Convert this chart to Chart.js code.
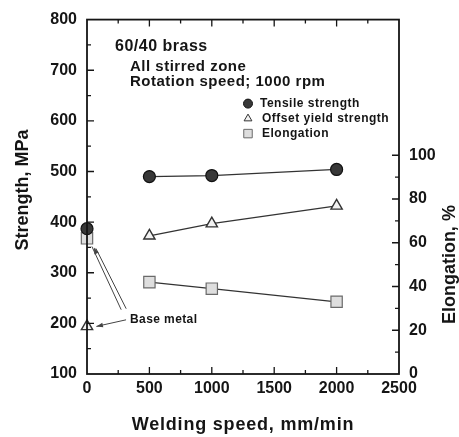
<!DOCTYPE html>
<html>
<head>
<meta charset="utf-8">
<script src="https://cdn.jsdelivr.net/npm/chart.js@4.4.1/dist/chart.umd.min.js"></script>
<style>
  html, body { margin: 0; padding: 0; background: #fff; }
  #wrap { width: 459px; height: 437px; }
</style>
</head>
<body>
<div id="wrap"><canvas id="chart" width="459" height="437"></canvas></div>
<script>
  // data
  const weldSpeeds = [500, 1000, 2000];
  const tensile = [490, 492, 504];
  const yieldStrength = [373, 397, 432];
  const elongation = [42, 39, 33];
  const baseSpeed = 0;
  const baseTensile = 387;
  const baseYield = 194;
  const baseElong = 62;

  const xTicks = [0, 500, 1000, 1500, 2000, 2500];
  const strengthTicks = [100, 200, 300, 400, 500, 600, 700, 800];
  const elongTicks = [0, 20, 40, 60, 80, 100];

  const ink = '#151515';
  const fontBold = (size) => `bold ${size}px Arial, "Liberation Sans", sans-serif`;
  const tickFont = { family: 'Arial, "Liberation Sans", sans-serif', size: 16, weight: 'bold' };

  function pts(xs, ys) {
    return xs.map((x, i) => ({ x, y: ys[i] }));
  }

  const circle = { pointStyle: 'circle', pointRadius: 6, pointBackgroundColor: '#383838', pointBorderColor: '#111', pointBorderWidth: 1.2 };
  const triangle = { pointStyle: 'triangle', pointRadius: 6.5, pointBackgroundColor: '#f2f2f2', pointBorderColor: '#333', pointBorderWidth: 1.4 };
  const square = { pointStyle: 'rect', pointRadius: 8, pointBackgroundColor: '#dedede', pointBorderColor: '#6a6a6a', pointBorderWidth: 1.2 };

  function spaced(ctx, text, x, y, spacing) {
    ctx.letterSpacing = spacing + 'px';
    ctx.fillText(text, x, y);
    ctx.letterSpacing = '0px';
  }

  // inward ticks, frame, texts, legend and the base metal callout
  const decorations = {
    id: 'decorations',
    afterDatasetsDraw(chart) {
      const { ctx, chartArea: a, scales } = chart;
      const x = scales.x, y = scales.y, y2 = scales.y2;
      ctx.save();
      ctx.strokeStyle = ink;
      ctx.lineWidth = 1.8;
      ctx.strokeRect(a.left, a.top, a.right - a.left, a.bottom - a.top);

      ctx.lineWidth = 1.3;
      ctx.beginPath();
      for (let v = 250; v < 2500; v += 250) {
        const px = x.getPixelForValue(v);
        const len = v % 500 === 0 ? 7 : 4;
        ctx.moveTo(px, a.bottom); ctx.lineTo(px, a.bottom - len);
        ctx.moveTo(px, a.top); ctx.lineTo(px, a.top + len);
      }
      for (let v = 150; v < 800; v += 50) {
        const py = y.getPixelForValue(v);
        const len = v % 100 === 0 ? 7 : 4;
        ctx.moveTo(a.left, py); ctx.lineTo(a.left + len, py);
      }
      for (let v = 10; v <= 100; v += 10) {
        const py = y2.getPixelForValue(v);
        const len = v % 20 === 0 ? 7 : 4;
        ctx.moveTo(a.right, py); ctx.lineTo(a.right - len, py);
      }
      ctx.stroke();

      // heading
      ctx.fillStyle = ink;
      ctx.textBaseline = 'middle';
      ctx.textAlign = 'left';
      ctx.font = fontBold(16);
      spaced(ctx, '60/40 brass', a.left + 28, a.top + 27, 0.5);
      ctx.font = fontBold(15);
      spaced(ctx, 'All stirred zone', a.left + 43, a.top + 47, 0.5);
      spaced(ctx, 'Rotation speed; 1000 rpm', a.left + 43, a.top + 62, 0.5);

      // legend
      const legend = [
        ['Tensile strength', circle, 0],
        ['Offset yield strength', triangle, 2],
        ['Elongation', square, 2],
      ];
      ctx.font = fontBold(12);
      legend.forEach(([label, st, shift], i) => {
        const ly = a.top + 84 + i * 15;
        const lx = a.left + 161;
        ctx.fillStyle = st.pointBackgroundColor;
        ctx.strokeStyle = st.pointBorderColor;
        ctx.lineWidth = 1;
        const r = st.pointStyle === 'rect' ? 6 : 4.5;
        Chart.helpers.drawPoint(ctx, { pointStyle: st.pointStyle, radius: r, borderWidth: 1 }, lx, ly);
        ctx.fillStyle = ink;
        spaced(ctx, label, lx + 12 + shift, ly, 0.5);
      });

      // base metal callout
      ctx.font = fontBold(12);
      const tx = x.getPixelForValue(345), ty = y.getPixelForValue(207);
      spaced(ctx, 'Base metal', tx, ty, 0.4);
      ctx.strokeStyle = '#444';
      ctx.lineWidth = 1;
      const arrow = (x0, y0, x1, y1) => {
        const ang = Math.atan2(y1 - y0, x1 - x0);
        ctx.beginPath();
        ctx.moveTo(x1, y1);
        ctx.lineTo(x1 - 7 * Math.cos(ang - 0.35), y1 - 7 * Math.sin(ang - 0.35));
        ctx.lineTo(x1 - 7 * Math.cos(ang + 0.35), y1 - 7 * Math.sin(ang + 0.35));
        ctx.closePath();
        ctx.fillStyle = '#444';
        ctx.fill();
      };
      const ax0 = tx - 4, ay0 = ty;
      const ax1 = x.getPixelForValue(75), ay1 = y.getPixelForValue(baseYield);
      ctx.beginPath(); ctx.moveTo(ax0, ay0); ctx.lineTo(ax1, ay1); ctx.stroke();
      arrow(ax0, ay0, ax1, ay1);
      const bx0 = x.getPixelForValue(290), by0 = y.getPixelForValue(225);
      const bx1 = x.getPixelForValue(55), by1 = y.getPixelForValue(350);
      ctx.beginPath();
      ctx.moveTo(bx0 - 2, by0 - 1); ctx.lineTo(bx1 - 2, by1 - 1);
      ctx.moveTo(bx0 + 3, by0 - 2); ctx.lineTo(bx1 + 2, by1 + 1);
      ctx.stroke();
      arrow(bx0, by0, bx1, by1);

      // axis titles
      ctx.fillStyle = ink;
      ctx.font = fontBold(18);
      ctx.textAlign = 'center';
      spaced(ctx, 'Welding speed, mm/min', (a.left + a.right) / 2, 425, 0.8);
      ctx.save();
      ctx.translate(23, 190);
      ctx.rotate(-Math.PI / 2);
      ctx.fillText('Strength, MPa', 0, 0);
      ctx.restore();
      ctx.save();
      ctx.translate(450, (y2.getPixelForValue(0) + y2.getPixelForValue(100)) / 2);
      ctx.rotate(-Math.PI / 2);
      ctx.fillText('Elongation, %', 0, 0);
      ctx.restore();
      ctx.restore();
    },
  };

  const lineStyle = { borderColor: '#333', borderWidth: 1.3, showLine: true, clip: false };

  new Chart(document.getElementById('chart'), {
    type: 'scatter',
    data: {
      datasets: [
        { label: 'Tensile strength', data: pts(weldSpeeds, tensile), yAxisID: 'y', ...lineStyle, ...circle },
        { label: 'Offset yield strength', data: pts(weldSpeeds, yieldStrength), yAxisID: 'y', ...lineStyle, ...triangle },
        { label: 'Elongation', data: pts(weldSpeeds, elongation), yAxisID: 'y2', ...lineStyle, ...square },
        { label: 'Base tensile', data: [{ x: baseSpeed, y: baseTensile }], yAxisID: 'y', showLine: false, clip: false, ...circle },
        { label: 'Base yield', data: [{ x: baseSpeed, y: baseYield }], yAxisID: 'y', showLine: false, clip: false, ...triangle },
        { label: 'Base elongation', data: [{ x: baseSpeed, y: baseElong }], yAxisID: 'y2', showLine: false, clip: false, ...square },
      ],
    },
    options: {
      responsive: false,
      animation: false,
      layout: { padding: { top: 15, left: 0, right: 0, bottom: 0 } },
      plugins: { legend: { display: false }, tooltip: { enabled: false } },
      scales: {
        x: {
          type: 'linear', min: 0, max: 2500,
          afterBuildTicks: (s) => { s.ticks = xTicks.map((v) => ({ value: v })); },
          afterFit: (s) => { s.height = 63; },
          grid: { display: false, drawTicks: false },
          border: { display: false },
          ticks: { color: ink, font: tickFont, padding: 5, maxRotation: 0, callback: (v) => String(v) },
        },
        y: {
          type: 'linear', position: 'left', min: 100, max: 800,
          afterBuildTicks: (s) => { s.ticks = strengthTicks.map((v) => ({ value: v })); },
          afterFit: (s) => { s.width = 87; },
          grid: { display: false, drawTicks: false },
          border: { display: false },
          ticks: { color: ink, font: tickFont, padding: 10, callback: (v) => String(v) },
        },
        y2: {
          type: 'linear', position: 'right', min: 0, max: 162,
          afterBuildTicks: (s) => { s.ticks = elongTicks.map((v) => ({ value: v })); },
          afterFit: (s) => { s.width = 60; },
          grid: { display: false, drawTicks: false },
          border: { display: false },
          ticks: { color: ink, font: tickFont, padding: 10, callback: (v) => String(v) },
        },
      },
    },
    plugins: [decorations],
  });
</script>
</body>
</html>
